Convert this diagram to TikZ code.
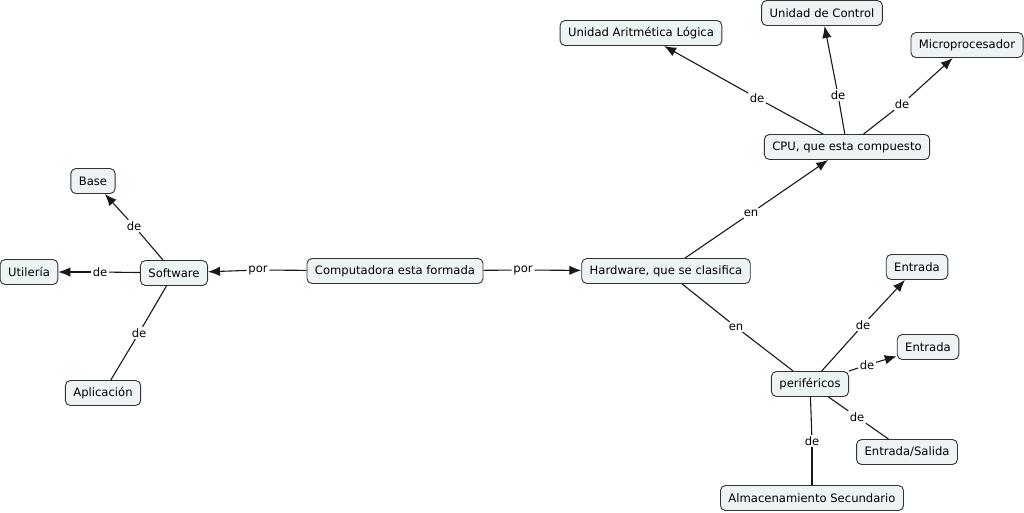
\documentclass[tikz,border=0pt]{standalone}
\usepackage{fontspec}
\setmainfont{DejaVu Sans}
\usetikzlibrary{arrows.meta}
\definecolor{conceptfill}{HTML}{EEF3F5}
\tikzset{
    concept/.style={draw=black!80, fill=conceptfill, rounded corners=5pt, line width=0.9pt,
                    minimum height=25pt, inner xsep=8pt, font=\fontsize{11.6}{13}\selectfont},
    linkword/.style={inner sep=1.5pt, font=\fontsize{11.6}{13}\selectfont},
    link/.style={line width=1.1pt, draw=black!90},
    linkto/.style={link, -{Latex[length=12pt,width=9.5pt]}}
}
\begin{document}
\begin{tikzpicture}[x=1pt,y=-1pt]
    \useasboundingbox (0,0) rectangle (1024,512);

    \node[concept] (comp) at (395,271)  {Computadora esta formada};
    \node[concept] (sw)   at (174,273)  {Software};
    \node[concept] (base) at (93,181)   {Base};
    \node[concept] (util) at (29,272)   {Utilería};
    \node[concept] (apl)  at (103,393)  {Aplicación};
    \node[concept] (hw)   at (666,271)  {Hardware, que se clasifica};
    \node[concept] (cpu)  at (847,147)  {CPU, que esta compuesto};
    \node[concept] (ual)  at (641,33)   {Unidad Aritmética Lógica};
    \node[concept] (uc)   at (822,13)   {Unidad de Control};
    \node[concept] (micro) at (967,45)  {Microprocesador};
    \node[concept] (per)  at (810,384)  {periféricos};
    \node[concept] (ent1) at (917,267)  {Entrada};
    \node[concept] (ent2) at (928,347)  {Entrada};
    \node[concept] (es)   at (907,452)  {Entrada/Salida};
    \node[concept] (alm)  at (812,498)  {Almacenamiento Secundario};

    \node[linkword] (porsw)  at (258,270) {por};
    \node[linkword] (porhw)  at (523,270) {por};
    \node[linkword] (debase) at (134,226) {de};
    \node[linkword] (deutil) at (100,272) {de};
    \node[linkword] (deapl)  at (139,333) {de};
    \node[linkword] (encpu)  at (751,213) {en};
    \node[linkword] (enper)  at (736,327) {en};
    \node[linkword] (deual)  at (757,98)  {de};
    \node[linkword] (deuc)   at (838,95)  {de};
    \node[linkword] (demicro) at (902,104) {de};
    \node[linkword] (deent1) at (863,325) {de};
    \node[linkword] (deent2) at (867,365) {de};
    \node[linkword] (dees)   at (857,417) {de};
    \node[linkword] (dealm)  at (812,441) {de};

    \draw[link]   (comp) -- (porsw);
    \draw[linkto] (porsw) -- (sw);
    \draw[link]   (comp) -- (porhw);
    \draw[linkto] (porhw) -- (hw);

    \draw[link]   (sw) -- (debase);
    \draw[linkto] (debase) -- (base);
    \draw[link]   (sw) -- (deutil);
    \draw[linkto] (deutil) -- (util);
    \draw[link]   (sw) -- (deapl);
    \draw[link]   (deapl) -- (apl);

    \draw[link]   (hw) -- (encpu);
    \draw[linkto] (encpu) -- (cpu);
    \draw[link]   (hw) -- (enper);
    \draw[link]   (enper) -- (per);

    \draw[link]   (cpu) -- (deual);
    \draw[linkto] (deual) -- (ual);
    \draw[link]   (cpu) -- (deuc);
    \draw[linkto] (deuc) -- (uc);
    \draw[link]   (cpu) -- (demicro);
    \draw[linkto] (demicro) -- (micro);

    \draw[link]   (per) -- (deent1);
    \draw[linkto] (deent1) -- (ent1);
    \draw[link]   (per) -- (deent2);
    \draw[linkto] (deent2) -- (ent2);
    \draw[link]   (per) -- (dees);
    \draw[link]   (dees) -- (es);
    \draw[link]   (per) -- (dealm);
    \draw[link]   (dealm) -- (alm);
\end{tikzpicture}
\end{document}
